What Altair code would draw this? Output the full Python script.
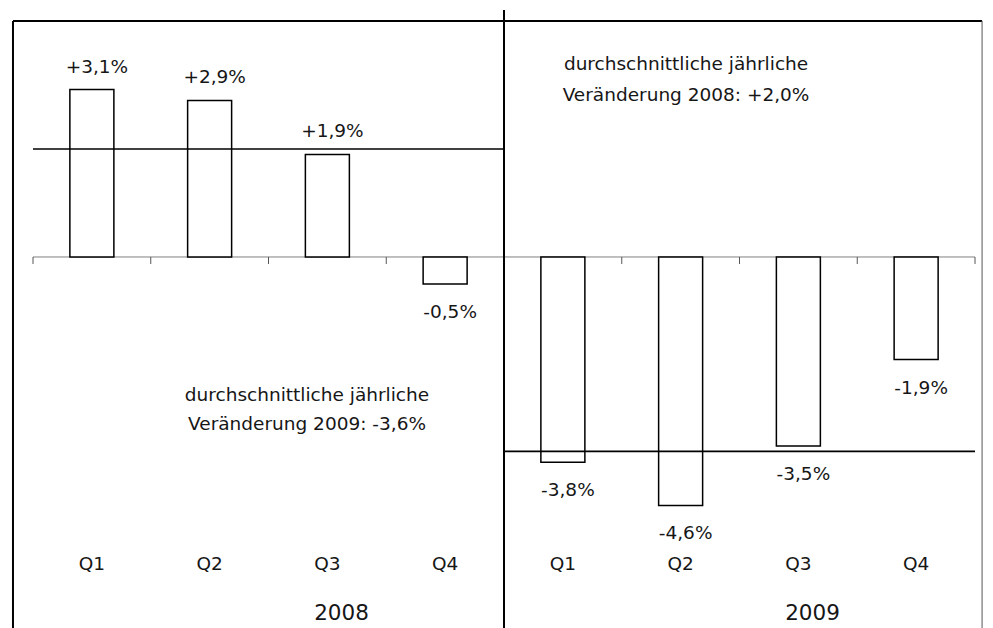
import altair as alt
import pandas as pd

quarters = ["Q1", "Q2", "Q3", "Q4"]
years = ["2008", "2009"]
values = [3.1, 2.9, 1.9, -0.5, -3.8, -4.6, -3.5, -1.9]
averages = [2.0, -3.6]
ann_head = "durchschnittliche jährliche"


def fmt(v):
    s = f"{abs(v):.1f}".replace(".", ",")
    return ("+" if v > 0 else "-") + s + "%"


bars = pd.DataFrame({
    "pos": [i + 0.5 for i in range(len(values))],
    "value": values,
    "label": [fmt(v) for v in values],
    "quarter": quarters * len(years),
})
avg = pd.DataFrame({
    "start": [4 * i for i in range(len(years))],
    "end": [4 * (i + 1) for i in range(len(years))],
    "avg": averages,
    "year": years,
    "center": [4 * i + 2 for i in range(len(years))],
    "text": [f"{ann_head}\nVeränderung {y}: {fmt(a)}" for y, a in zip(years, averages)],
})
ticks = pd.DataFrame({"t": list(range(len(values) + 1))})
one = pd.DataFrame({"k": [0]})

XS = alt.Scale(domain=[0, 8], nice=False, zero=False, padding=0)
YS = alt.Scale(domain=[-6.556, 4.37], nice=False, zero=False, padding=0)
FONT = "DejaVu Sans"
FS = 18.5
TXT = "#161616"


def xd(v):
    return alt.XDatum(v, scale=XS, axis=None)


def yd(v):
    return alt.YDatum(v, scale=YS, axis=None)


base_one = alt.Chart(one)

zero_line = base_one.mark_rule(color="#808080", strokeWidth=1).encode(
    x=xd(0), x2=alt.X2Datum(8), y=yd(0))

tick_marks = alt.Chart(ticks).mark_rule(color="#555", strokeWidth=1).encode(
    x=alt.X("t:Q", scale=XS, axis=None), y=yd(0), y2=alt.Y2Datum(-0.13))

bar_marks = alt.Chart(bars).mark_bar(
    fill="white", stroke="black", strokeWidth=1.5, size=44, orient="vertical"
).encode(
    x=alt.X("pos:Q", scale=XS, axis=None),
    y=alt.Y("value:Q", scale=YS, axis=None),
    y2=alt.Y2Datum(0),
)

avg_lines = alt.Chart(avg).mark_rule(color="black", strokeWidth=1.6).encode(
    x=alt.X("start:Q", scale=XS, axis=None), x2="end:Q",
    y=alt.Y("avg:Q", scale=YS, axis=None))

divider = base_one.mark_rule(color="black", strokeWidth=2).encode(
    x=xd(4), y=yd(4.574), y2=alt.Y2Datum(-7.2))

frame_top = base_one.mark_rule(color="black", strokeWidth=2).encode(
    x=xd(-0.17), x2=alt.X2Datum(8.06), y=yd(4.37))
frame_left = base_one.mark_rule(color="black", strokeWidth=2).encode(
    x=xd(-0.17), y=yd(4.37), y2=alt.Y2Datum(-7.2))
frame_right = base_one.mark_rule(color="#555", strokeWidth=1).encode(
    x=xd(8.06), y=yd(4.37), y2=alt.Y2Datum(-7.2))

lab_pos = alt.Chart(bars).transform_filter("datum.value > 0").mark_text(
    font=FONT, fontSize=FS, color=TXT, baseline="alphabetic", dy=-17, dx=5
).encode(x=alt.X("pos:Q", scale=XS, axis=None),
         y=alt.Y("value:Q", scale=YS, axis=None), text="label:N")

lab_neg = alt.Chart(bars).transform_filter("datum.value < 0").mark_text(
    font=FONT, fontSize=FS, color=TXT, baseline="top", dy=19, dx=5
).encode(x=alt.X("pos:Q", scale=XS, axis=None),
         y=alt.Y("value:Q", scale=YS, axis=None), text="label:N")

q_labels = alt.Chart(bars).mark_text(
    font=FONT, fontSize=FS, color=TXT, baseline="middle"
).encode(x=alt.X("pos:Q", scale=XS, axis=None), y=yd(-5.685), text="quarter:N")

year_labels = alt.Chart(avg).mark_text(
    font=FONT, fontSize=21.5, color=TXT, baseline="middle", dx=73
).encode(x=alt.X("center:Q", scale=XS, axis=None), y=yd(-6.61), text="year:N")

ann_2008 = alt.Chart(avg).transform_filter("datum.year == '2008'").mark_text(
    font=FONT, fontSize=FS, color=TXT, baseline="alphabetic", lineBreak="\n",
    lineHeight=31
).encode(x=xd(5.546), y=yd(3.463), text="text:N")

ann_2009 = alt.Chart(avg).transform_filter("datum.year == '2009'").mark_text(
    font=FONT, fontSize=FS, color=TXT, baseline="alphabetic", lineBreak="\n",
    lineHeight=29
).encode(x=xd(2.327), y=yd(-2.667), text="text:N")

chart = alt.layer(
    zero_line, tick_marks, bar_marks, avg_lines, divider,
    frame_top, frame_left, frame_right,
    lab_pos, lab_neg, q_labels, year_labels, ann_2008, ann_2009,
).properties(
    width=942, height=590,
    padding={"left": 25, "top": 13, "right": 10, "bottom": 17},
    autosize=alt.AutoSizeParams(type="none"),
    background="white",
).configure_view(stroke=None)

chart.save("out.html", embed_options={"renderer": "svg", "actions": False})
